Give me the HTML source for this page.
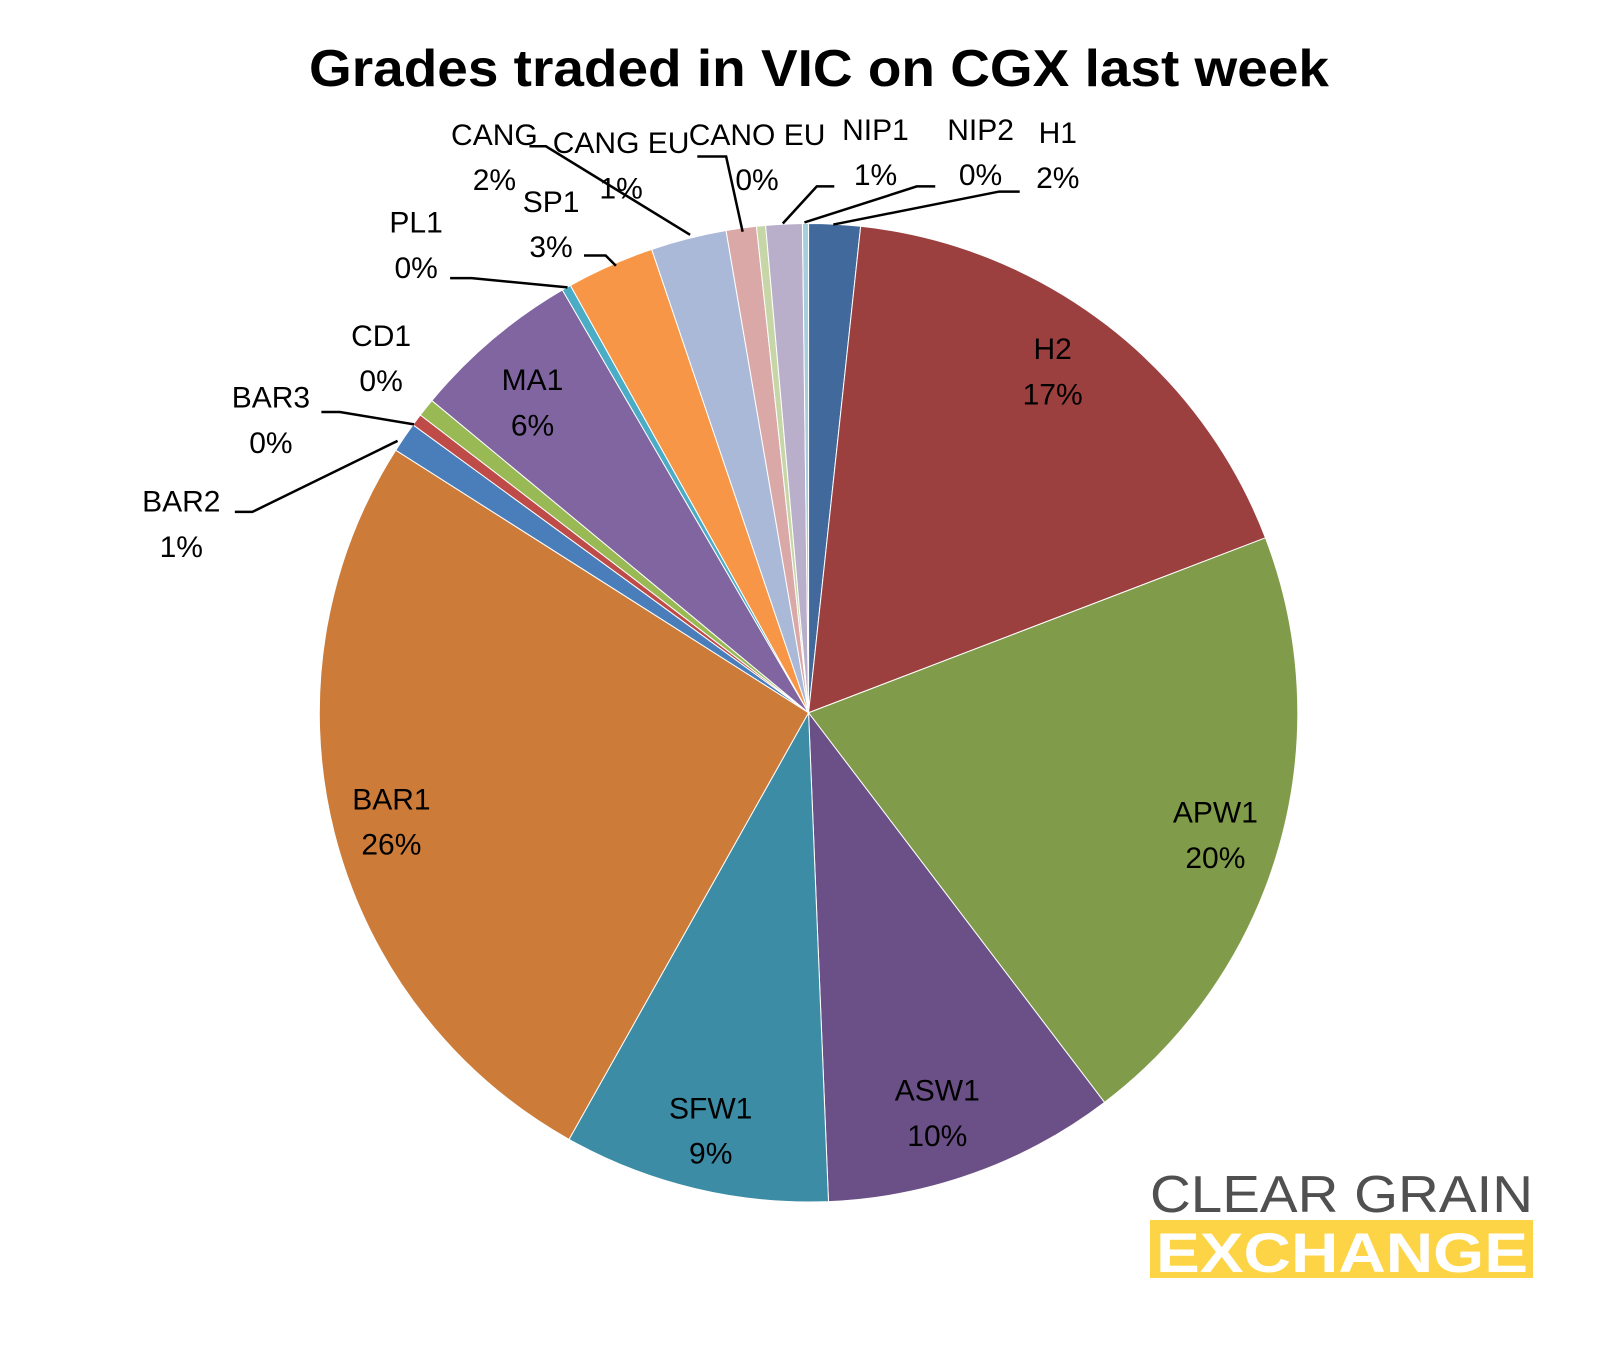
<!DOCTYPE html>
<html><head><meta charset="utf-8">
<style>
html,body{margin:0;padding:0;background:#fff;}
svg{display:block;}
text{font-family:"Liberation Sans",sans-serif;}
</style></head>
<body>
<svg id="chart" width="1609" height="1350" viewBox="0 0 1609 1350" xmlns="http://www.w3.org/2000/svg">
<text x="819" y="86" text-anchor="middle" font-size="52" font-weight="bold" fill="#000" textLength="1020" lengthAdjust="spacingAndGlyphs">Grades traded in VIC on CGX last week</text>
<g id="slices"></g>
<g id="labels"></g>
<g>
<text x="1150" y="1212" font-size="52" fill="#505050" textLength="383" lengthAdjust="spacingAndGlyphs">CLEAR GRAIN</text>
<rect x="1150" y="1220" width="383" height="58" fill="#FDD445"/>
<text x="1156" y="1272" font-size="56" font-weight="bold" fill="#fff" textLength="372" lengthAdjust="spacingAndGlyphs">EXCHANGE</text>
</g>
</svg>
<script>
const categories = ["H1","H2","APW1","ASW1","SFW1","BAR1","BAR2","BAR3","CD1","MA1","PL1","SP1","CANG","CANG EU","CANO EU","NIP1","NIP2"];
const values = [1.7,17.5,20.5,9.7,8.8,25.9,1.0,0.4,0.6,5.6,0.3,2.9,2.5,1.0,0.3,1.2,0.2];
const pctLabels = ["2%","17%","20%","10%","9%","26%","1%","0%","0%","6%","0%","3%","2%","1%","0%","1%","0%"];
const colors = ["#41699B","#9C3F3F","#809B49","#6A5086","#3D8CA5","#CC7B39","#4A7EBB","#BE4B48","#98B954","#8065A1","#4BACC6","#F79646","#AAB9D8","#D9A8A7","#C7D6A7","#B9AFCA","#A7CEDB"];

const S = 1.03;
const cx = 785*S, cy = 692*S, R = 475*S;
const NS = "http://www.w3.org/2000/svg";
const layout = {
 "H1":[1027,128,[[990,186],[970,186],[809,218]]],
 "H2":[1022,338,null],"APW1":[1180,788,null],"ASW1":[910,1058,null],"SFW1":[690,1075,null],
 "BAR1":[380,775,null],
 "BAR2":[176,486,[[228,497],[245,497],[386,428]]],
 "BAR3":[263,385,[[312,400],[330,400],[402,412]]],
 "CD1":[370,325,null],
 "MA1":[517,368,null],
 "PL1":[404,215,[[437,270],[458,270],[551,279]]],
 "SP1":[535,195,[[567,248],[588,248],[598,258]]],
 "CANG":[480,130,[[514,142],[530,142],[670,228]]],
 "CANG EU":[603,138,null],
 "CANO EU":[735,130,[[677,152],[705,152],[721,225]]],
 "NIP1":[850,125,[[810,181],[793,181],[760,217]]],
 "NIP2":[952,125,[[908,181],[890,181],[781,216]]]
};
const total = values.reduce((a,b)=>a+b,0);
function pt(a,r){return [cx+r*Math.sin(a), cy-r*Math.cos(a)];}
const gS = document.getElementById('slices');
const gL = document.getElementById('labels');
let acc = 0;
values.forEach((v,i)=>{
  const a0 = acc/total*2*Math.PI; acc += v; const a1 = acc/total*2*Math.PI;
  const p0 = pt(a0,R), p1 = pt(a1,R);
  const large = (a1-a0) > Math.PI ? 1 : 0;
  const path = document.createElementNS(NS,'path');
  path.setAttribute('d',`M${cx},${cy} L${p0[0]},${p0[1]} A${R},${R} 0 ${large} 1 ${p1[0]},${p1[1]} Z`);
  path.setAttribute('fill',colors[i]);
  path.setAttribute('stroke','#fff'); path.setAttribute('stroke-width','1');
  
  
  gS.appendChild(path);
  const L = layout[categories[i]];
  let x, y;
  if (L) { x = L[0]*S; y = L[1]*S; }
  else { const m = pt((a0+a1)/2, R*1.1); x = m[0]; y = m[1]; }
  if (L && L[2]) {
    const pl = document.createElementNS(NS,'polyline');
    pl.setAttribute('points', L[2].map(p=>(p[0]*S)+','+(p[1]*S)).join(' '));
    pl.setAttribute('fill','none'); pl.setAttribute('stroke','#000'); pl.setAttribute('stroke-width','2.5');
    
    
    gL.appendChild(pl);
  }
  const t = document.createElementNS(NS,'text');
  t.setAttribute('x',x); t.setAttribute('y',y+11);
  t.setAttribute('text-anchor','middle'); t.setAttribute('font-size','30'); t.setAttribute('fill','#000');
  
  
  const s1 = document.createElementNS(NS,'tspan'); s1.setAttribute('x',x); s1.textContent = categories[i];
  const s2 = document.createElementNS(NS,'tspan'); s2.setAttribute('x',x); s2.setAttribute('dy',44*S); s2.textContent = pctLabels[i];
  t.appendChild(s1); t.appendChild(s2);
  gL.appendChild(t);
});
</script>
</body></html>
